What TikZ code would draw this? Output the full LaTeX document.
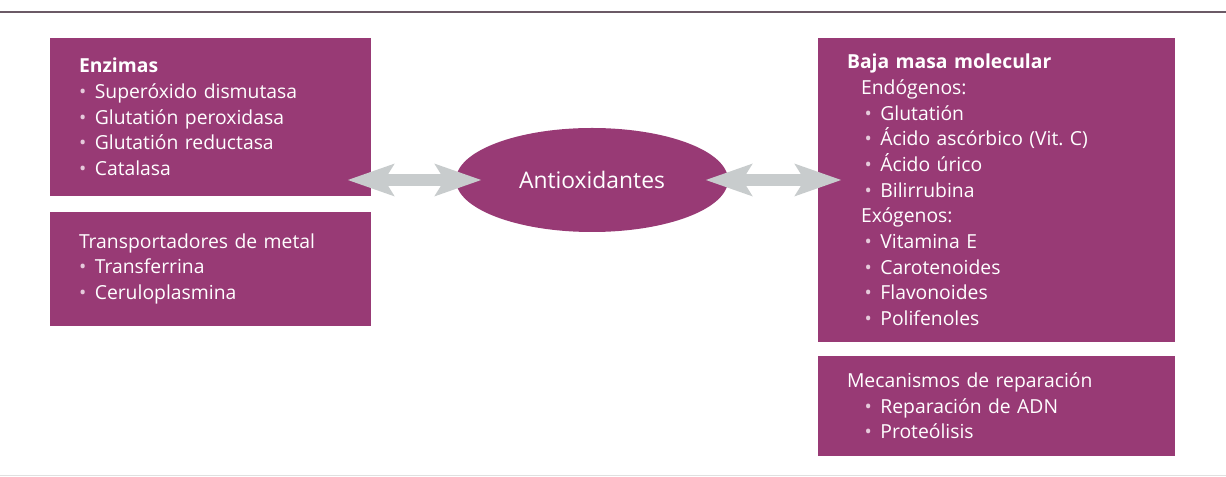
\documentclass[tikz,border=0pt]{standalone}
\usepackage{fontspec}
\setmainfont{Open Sans}
\usepackage{xcolor}
\usepackage{tikz}
\definecolor{antibox}{HTML}{983A75}
\definecolor{antiarrow}{HTML}{C8CCCD}
\definecolor{antirule}{HTML}{6B5A66}
\definecolor{antibullet}{HTML}{E6CADB}
\usetikzlibrary{arrows.meta, positioning, shapes.geometric}
\newcommand{\bul}{\makebox[9pt][l]{\textcolor{antibullet}{\textbullet}}}

\begin{document}
\begin{tikzpicture}[
    every node/.style={font=\fontsize{11}{14.6}\selectfont, text=white},
    box/.style={fill=antibox, align=left, inner xsep=0.58cm, inner ysep=0pt},
    boxL/.style={box, text width=5.26cm},
    boxR/.style={box, text width=5.98cm},
    center oval/.style={ellipse, fill=antibox, inner sep=0pt,
                 minimum width=5.44cm, minimum height=2.08cm},
    dblarrow/.style={color=antiarrow, line width=0.24cm,
                 {Stealth[length=0.92cm, width=0.62cm, inset=0.18cm]}-{Stealth[length=0.92cm, width=0.62cm, inset=0.18cm]}},
]
% --- Frame: page size and the two horizontal rules ---
\useasboundingbox (0,0) rectangle (24.52,-9.54);
\draw[antirule, line width=0.03cm] (0,-0.24) -- (24.52,-0.24);
\draw[black!12, line width=0.02cm] (0,-9.50) -- (24.52,-9.50);

% --- Centre: the ellipse ---
\node[center oval, font=\fontsize{13}{15}\selectfont] (antiox) at (11.84,-3.60) {Antioxidantes};

% --- Left column ---
\node[boxL, minimum height=3.16cm] (enz) at (4.21,-2.34)
    {\textbf{Enzimas}\\
     \bul Superóxido dismutasa\\
     \bul Glutatión peroxidasa\\
     \bul Glutatión reductasa\\
     \bul Catalasa};

\node[boxL, minimum height=2.28cm, below=0.3cm of enz] (trans)
    {Transportadores de metal\\
     \bul Transferrina\\
     \bul Ceruloplasmina};

% --- Right column ---
\node[boxR, minimum height=6.08cm] (baja) at (19.93,-3.80)
    {\textbf{Baja masa molecular}\\
     \hspace*{8pt}Endógenos:\\
     \hspace*{10pt}\bul Glutatión\\
     \hspace*{10pt}\bul Ácido ascórbico (Vit.\ C)\\
     \hspace*{10pt}\bul Ácido úrico\\
     \hspace*{10pt}\bul Bilirrubina\\
     \hspace*{8pt}Exógenos:\\
     \hspace*{10pt}\bul Vitamina E\\
     \hspace*{10pt}\bul Carotenoides\\
     \hspace*{10pt}\bul Flavonoides\\
     \hspace*{10pt}\bul Polifenoles};

\node[boxR, minimum height=2.0cm, below=0.26cm of baja] (rep)
    {Mecanismos de reparación\\
     \hspace*{10pt}\bul Reparación de ADN\\
     \hspace*{10pt}\bul Proteólisis};

% --- Double arrows, overlapping boxes and ellipse ---
\draw[dblarrow, shorten <=-0.48cm, shorten >=-0.52cm]
    (enz.east |- antiox) -- (antiox.west);
\draw[dblarrow, shorten <=-0.46cm, shorten >=-0.48cm]
    (antiox.east) -- (baja.west |- antiox);
\end{tikzpicture}
\end{document}
